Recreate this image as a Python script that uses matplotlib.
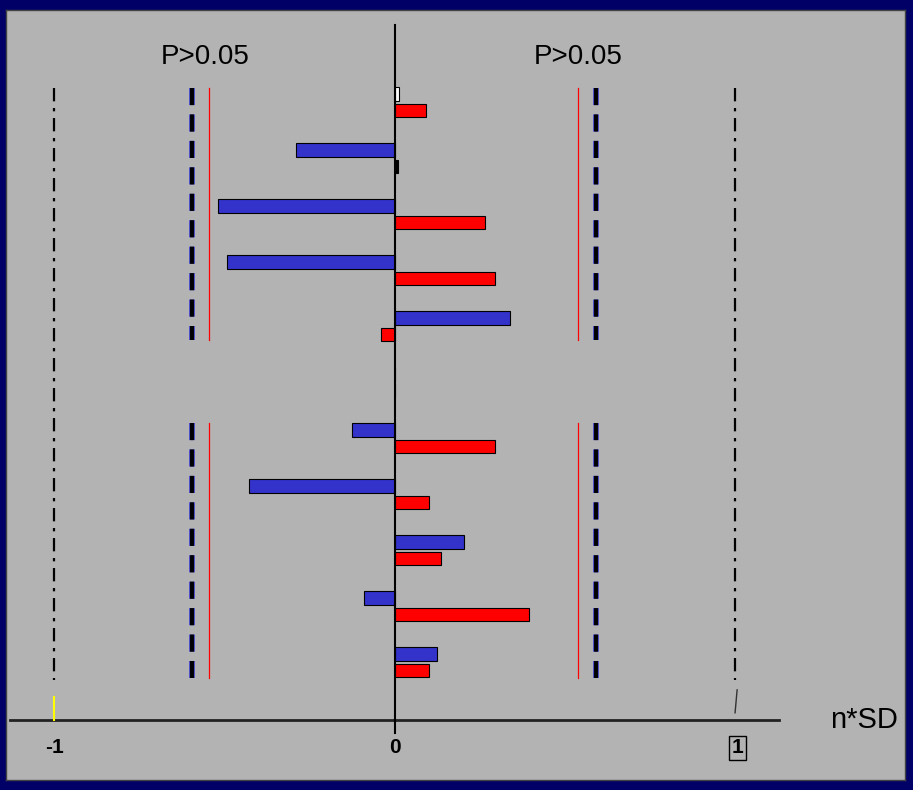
import matplotlib.pyplot as plt
import matplotlib.patheffects as pe
import numpy as np

plt.rcParams['font.family'] = ['Liberation Sans', 'DejaVu Sans']

# Datos (filas de arriba hacia abajo; la fila 5 esta vacia)
rows = np.arange(11)
upper = [0.012, -0.288, -0.517, -0.493, 0.338, 0.0, -0.126, -0.426, 0.203, -0.091, 0.126]
lower = [0.091, 0.009, 0.267, 0.294, -0.041, 0.0, 0.294, 0.100, 0.135, 0.394, 0.100]
upper_colors = ['white'] + ['#3333cc'] * 10
lower_colors = ['red', 'black'] + ['red'] * 9

sig_dash = [-0.596, 0.593]   # lineas azules/negras
sig_red = [-0.546, 0.540]    # lineas rojas
limits = [-1, 1]             # lineas punto-raya
segments = [(-0.11, 4.39), (5.87, 10.43)]

tick_vals = [-1, 0, 1]
tick_labels = ['-1', '0', '1']

fig = plt.figure(figsize=(9.13, 7.90), dpi=100, facecolor='#000066')
ax = fig.add_axes([6 / 913, 10 / 790, 899 / 913, 770 / 790])
ax.set_facecolor('#b3b3b3')
for s in ax.spines.values():
    s.set_color('#444444')
    s.set_linewidth(1)
ax.set_xlim(-1.141, 1.499)
ax.set_ylim(12.25, -1.5)
ax.set_xticks([])
ax.set_yticks([])

h = 0.235
ax.barh(rows, upper, height=h, color=upper_colors, edgecolor='black', linewidth=0.8, zorder=3)
ax.barh(rows + 0.29, lower, height=h, color=lower_colors, edgecolor='black', linewidth=0.8, zorder=3)

# Lineas de referencia
contorno = [pe.Stroke(linewidth=4.0, foreground='#3333cc'), pe.Normal()]
for y0, y1 in segments:
    for xv in sig_dash:
        ax.plot([xv, xv], [y0, y1], color='black', lw=2.8, dashes=(4.4, 2.4),
                path_effects=contorno, zorder=2)
    for xv in sig_red:
        ax.plot([xv, xv], [y0, y1], color='red', lw=0.9, zorder=2)
for xv in limits:
    ax.plot([xv, xv], [-0.11, 10.47], color='black', lw=1.6, dashes=(6, 3, 1.5, 3), zorder=2)

# Ejes
ax.plot([-1.129, 1.128], [11.18, 11.18], color='#222222', lw=2, zorder=4)
ax.plot([0, 0], [-1.23, 11.41], color='black', lw=1.5, zorder=4)
ax.plot([-1, -1], [10.77, 11.18], color='yellow', lw=1.5, zorder=4)
ax.plot([1.006, 1.0], [10.64, 11.05], color='#333333', lw=1, zorder=4)

# Textos
for xv in sig_red:
    ax.text(xv + (-0.01 if xv < 0 else 0), -0.66, 'P>0.05', fontsize=20,
            ha='center', va='center')
ax.text(1.278, 11.18, 'n*SD', fontsize=21, ha='left', va='center')
for xv, lab in zip(tick_vals, tick_labels):
    bbox = dict(boxstyle='square,pad=0.12', fc='none', ec='black', lw=1) if xv == 1 else None
    ax.text(xv + (0.008 if xv == 1 else 0), 11.67, lab, fontsize=15, fontweight='bold',
            ha='center', va='center', bbox=bbox)

fig.savefig('out.png', dpi=100, facecolor=fig.get_facecolor())
